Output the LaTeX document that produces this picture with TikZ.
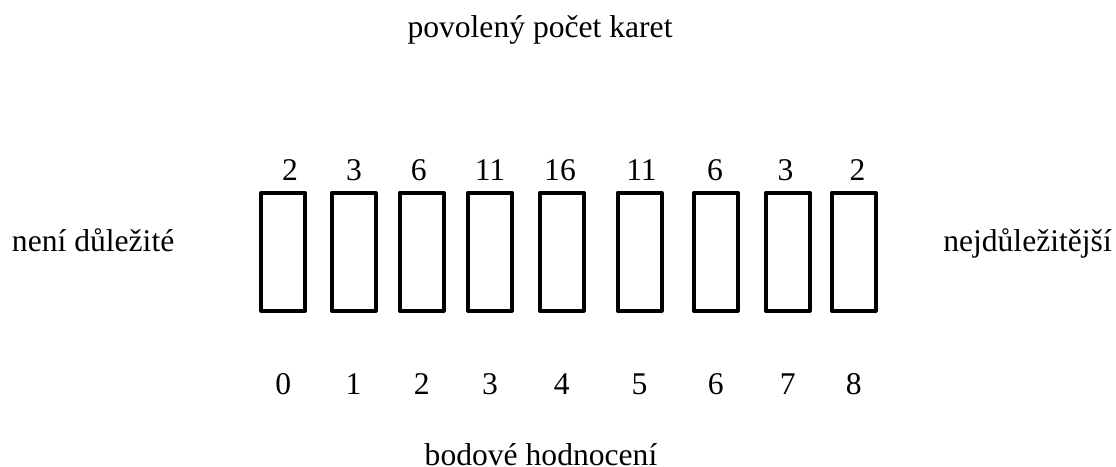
\documentclass[tikz,border=0pt]{standalone}
\usepackage{fontspec}
\setmainfont{Liberation Serif}
\begin{document}
\begin{tikzpicture}[x=0.75pt,y=-0.75pt,
  card/.style={draw=black,line width=3pt,line join=round,minimum width=33pt,minimum height=88.5pt,inner sep=0pt},
  lbl/.style={anchor=base,inner sep=0pt,font=\fontsize{23.7}{28}\selectfont}]
\useasboundingbox (0,0) rectangle (1116,467);
\node[lbl] (title) at (540,38) {povolený počet karet};
\node[lbl] (axis) at (541,465) {bodové hodnocení};
\node[lbl,anchor=base west] (left) at (11.7,251.7) {není důležité};
\node[lbl,anchor=base east] (right) at (1112,251.7) {nejdůležitější};
\foreach \i/\cx/\tx/\top in {0/283.2/290/2,1/353.5/354/3,2/421.7/418.7/6,3/490/490/11,4/561.8/560/16,5/639.5/641.5/11,6/715.8/715/6,7/787.8/785.5/3,8/853.7/857.5/2}{
  \node[card] (c\i) at (\cx,251.7) {};
  \node[lbl] (t\i) at (\tx,180) {\top};
  \node[lbl] (b\i) at (\cx,394) {\i};
}
\end{tikzpicture}
\end{document}
